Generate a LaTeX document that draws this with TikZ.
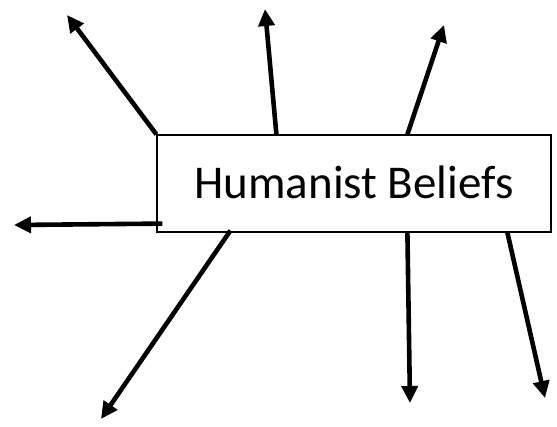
\documentclass[tikz,border=0pt]{standalone}
\usepackage{fontspec}
\setmainfont{Carlito}
\usetikzlibrary{arrows.meta}

\begin{document}
\begin{tikzpicture}[
  x=1pt, y=-1pt,
  title/.style={draw, line width=1.2pt, minimum width=394pt, minimum height=97pt,
                font=\fontsize{47}{50}\selectfont},
  spoke/.style={line width=4.6pt, -{Triangle[length=17pt,width=16pt]}},
]
\useasboundingbox (0,0) rectangle (557,426);
\node[title] (beliefs) at (354,183.5) {\raisebox{3pt}{Humanist Beliefs}};

\coordinate (nw) at (67,15);
\coordinate (n) at (265,9);
\coordinate (ne) at (444,25);
\coordinate (w) at (14,225);
\coordinate (sw) at (101,419);
\coordinate (s) at (410,403);
\coordinate (se) at (545,398);

\draw[spoke] (beliefs.north west) -- (nw);
\draw[spoke] ([xshift=120pt]beliefs.north west) -- (n);
\draw[spoke] ([xshift=251pt]beliefs.north west) -- (ne);
\draw[spoke] ([xshift=6pt, yshift=9pt]beliefs.south west) -- (w);
\draw[spoke] ([xshift=74pt, yshift=2pt]beliefs.south west) -- (sw);
\draw[spoke] ([xshift=251pt]beliefs.south west) -- (s);
\draw[spoke] ([xshift=351pt]beliefs.south west) -- (se);
\end{tikzpicture}
\end{document}
